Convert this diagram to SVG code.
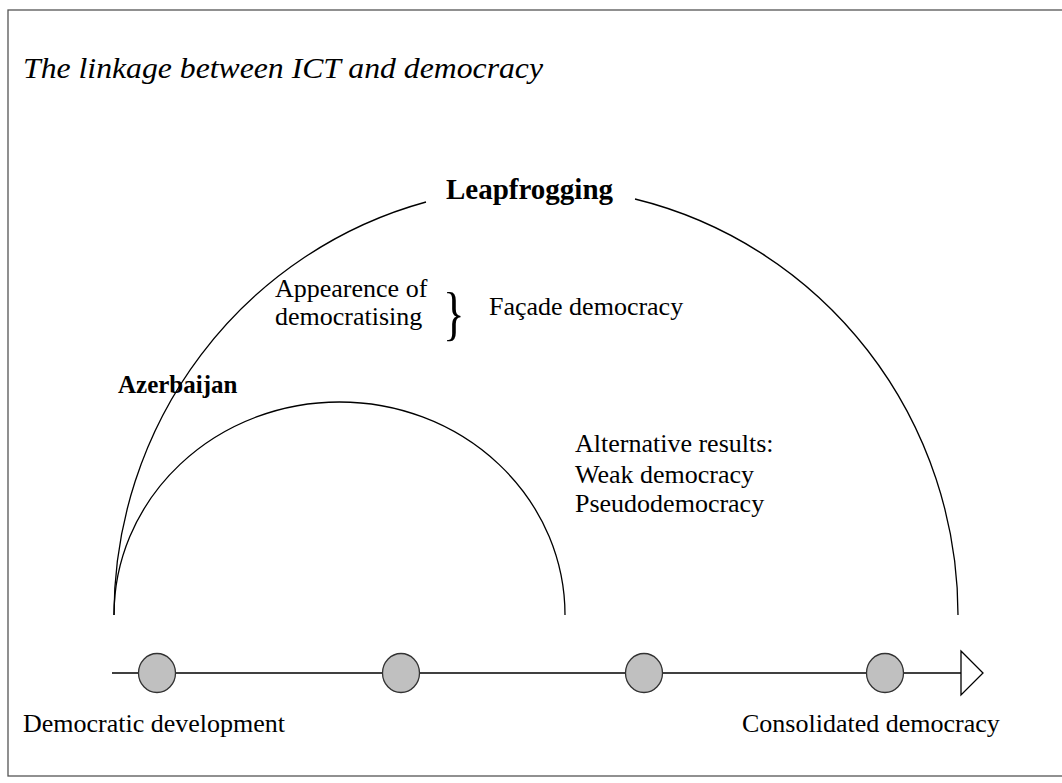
<svg xmlns="http://www.w3.org/2000/svg" width="1062" height="783" viewBox="0 0 1062 783">
<style>
.t{font-family:"Liberation Serif","Times New Roman",serif;font-size:26px;fill:#000}
.b{font-weight:bold}
.arc{fill:none;stroke:#000;stroke-width:1.3}
.node{fill:#c0c0c0;stroke:#333;stroke-width:1.3}
</style>
<rect x="8" y="10" width="1060" height="766" fill="#fff" stroke="#555" stroke-width="1.3"/>
<text class="t" x="23" y="78" style="font-style:italic;font-size:29px" textLength="520" lengthAdjust="spacingAndGlyphs">The linkage between ICT and democracy</text>
<g id="connectors">
<path class="arc" d="M 114 615 A 422 428 0 0 1 426 202"/>
<path class="arc" d="M 635 199 A 422 428 0 0 1 958 615"/>
<path class="arc" d="M 114 615 A 225.5 213 0 0 1 565 615"/>
<line x1="112" y1="673" x2="961" y2="673" stroke="#000" stroke-width="1.5"/>
<polygon points="961,651 983,673 961,695" fill="#fff" stroke="#000" stroke-width="1.3"/>
</g>
<g id="n1"><ellipse class="node" cx="157" cy="673" rx="18.5" ry="19.5"/></g>
<g id="n2"><ellipse class="node" cx="401" cy="673" rx="18.5" ry="19.5"/></g>
<g id="n3"><ellipse class="node" cx="644" cy="673" rx="18.5" ry="19.5"/></g>
<g id="n4"><ellipse class="node" cx="885" cy="673" rx="18.5" ry="19.5"/></g>
<g id="labels">
<text class="t b" x="446" y="199" style="font-size:29px">Leapfrogging</text>
<text class="t b" x="118" y="393" style="font-size:25px">Azerbaijan</text>
<text class="t" x="275" y="297">Appearence of</text>
<text class="t" x="275" y="325">democratising</text>
<text class="t" x="0" y="333" style="font-size:60px" transform="translate(443 0) scale(0.75 1)">}</text>
<text class="t" x="489" y="315">Façade democracy</text>
<text class="t" x="575" y="452">Alternative results:</text>
<text class="t" x="575" y="483">Weak democracy</text>
<text class="t" x="575" y="512">Pseudodemocracy</text>
<text class="t" x="23" y="732">Democratic development</text>
<text class="t" x="742" y="732">Consolidated democracy</text>
</g>
</svg>
